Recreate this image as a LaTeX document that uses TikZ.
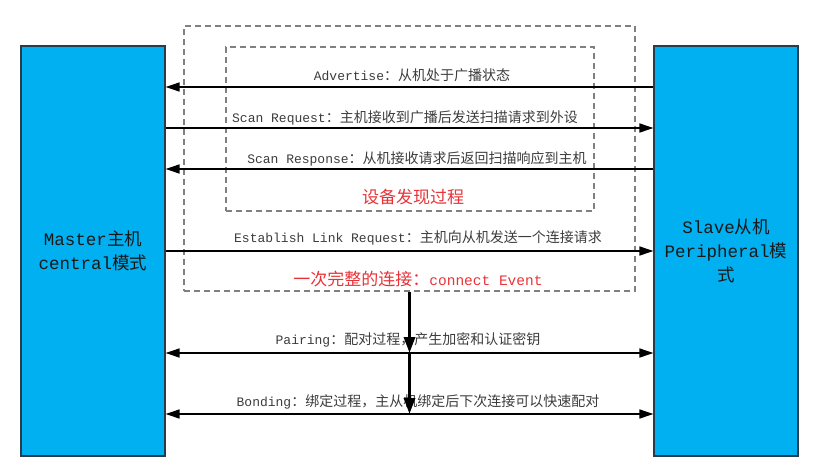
\documentclass[tikz,border=0pt]{standalone}
\usepackage{fontspec}
\setmainfont{Liberation Mono}
\newfontfamily\cjk{Noto Sans CJK SC}
\newcommand{\zh}[1]{{\cjk\fontsize{14}{16}\selectfont #1}}
\newcommand{\zhbig}[1]{{\cjk\fontsize{17}{19}\selectfont #1}}
\usetikzlibrary{arrows.meta}
\definecolor{boxblue}{RGB}{0,176,240}
\definecolor{boxedge}{RGB}{40,60,75}
\definecolor{lbl}{RGB}{60,60,60}
\definecolor{evred}{RGB}{232,50,55}
\definecolor{grpgray}{RGB}{128,128,128}
\begin{document}
\begin{tikzpicture}[x=1pt,y=-1pt,
  dev/.style={draw=boxedge,line width=1.2pt,fill=boxblue,minimum width=144pt,minimum height=410pt,inner sep=0pt,align=center,text=black!90,font=\fontsize{17.5}{24}\selectfont},
  msg/.style={line width=1.6pt,-{Triangle[length=14pt,width=9pt]}},
  msgboth/.style={line width=1.6pt,{Triangle[length=14pt,width=9pt]}-{Triangle[length=14pt,width=9pt]}},
  lab/.style={text=lbl,font=\fontsize{13}{15}\selectfont,inner sep=0pt},
  grp/.style={draw=grpgray,dash pattern=on 6pt off 4pt,line width=1.2pt,inner sep=0pt},
  ttl/.style={text=evred,font=\fontsize{14.5}{19}\selectfont,inner sep=0pt},
  flow/.style={line width=3.2pt,-{Triangle[length=16pt,width=11pt]}}]
\useasboundingbox (0,0) rectangle (831,469);
% devices
\node[dev] (M) at (93,251) {Master{\cjk 主机}\\central{\cjk 模式}};
\node[dev] (S) at (726,251) {Slave{\cjk 从机}\\Peripheral{\cjk 模}\\{\cjk 式}};
% groups
\node[grp,minimum width=451pt,minimum height=265pt] (outer) at (409.5,158.5) {};
\node[grp,minimum width=368pt,minimum height=164pt] (inner) at (410,129) {};
% messages
\draw[msg] (S.west |- 0,87) -- (M.east |- 0,87);
\node[lab] (l1) at (412,75) {Advertise\zh{：从机处于广播状态}};
\draw[msg] (M.east |- 0,128) -- (S.west |- 0,128);
\node[lab] (l2) at (405,118) {Scan Request\zh{：主机接收到广播后发送扫描请求到外设}};
\draw[msg] (S.west |- 0,169) -- (M.east |- 0,169);
\node[lab] (l3) at (417,159) {Scan Response\zh{：从机接收请求后返回扫描响应到主机}};
\node[ttl] (t1) at (413,197) {\zhbig{设备发现过程}};
\draw[msg] (M.east |- 0,251) -- (S.west |- 0,251);
\node[lab] (l4) at (418,238) {Establish Link Request\zh{：主机向从机发送一个连接请求}};
\node[ttl] (t2) at (418,279) {\zhbig{一次完整的连接：}connect Event};
% flow
\coordinate (p1) at (outer.south |- 0,353);
\coordinate (p2) at (outer.south |- 0,414);
\draw[msgboth] (M.east |- p1) -- (S.west |- p1);
\node[lab] (l5) at (408,340) {Pairing\zh{：配对过程，产生加密和认证密钥}};
\draw[msgboth] (M.east |- p2) -- (S.west |- p2);
\node[lab] (l6) at (418,402) {Bonding\zh{：绑定过程，主从机绑定后下次连接可以快速配对}};
\draw[flow] (outer.south) -- (p1);
\draw[flow] (p1) -- (p2);
\end{tikzpicture}
\end{document}
